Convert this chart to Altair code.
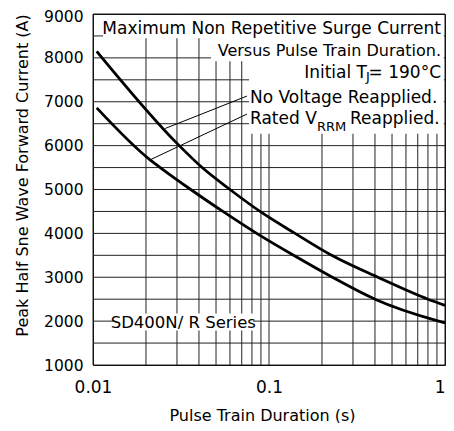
import altair as alt
import pandas as pd

# ---- series ----
pulse_no_voltage = [0.0105, 0.0309, 0.0417, 0.0600, 0.0889, 0.1406, 0.227, 0.415, 0.80, 1.0]
current_no_voltage = [8150, 6000, 5500, 5000, 4500, 4000, 3500, 3000, 2500, 2360]

pulse_rated = [0.0105, 0.0211, 0.0241, 0.0359, 0.0547, 0.0851, 0.138, 0.229, 0.40, 0.92, 1.0]
current_rated = [6860, 5675, 5500, 5000, 4500, 4000, 3500, 3000, 2500, 2000, 1960]

# ---- axis ticks / grid ----
x_tick_values = [0.01, 0.02, 0.03, 0.04, 0.05, 0.06, 0.07, 0.08, 0.09,
                 0.1, 0.2, 0.3, 0.4, 0.5, 0.6, 0.7, 0.8, 0.9, 1]
x_tick_labels = ["0.01", "0.1", "1"]
y_tick_values = [1000, 1500, 2000, 2500, 3000, 3500, 4000, 4500, 5000,
                 5500, 6000, 6500, 7000, 7500, 8000, 8500, 9000]
y_label_values = [1000, 2000, 3000, 4000, 5000, 6000, 7000, 8000, 9000]

# ---- annotation boxes (white backgrounds behind labels) ----
box_x0 = [0.0114, 0.0468, 0.0770, 0.0130]
box_x1 = [0.985, 0.985, 0.985, 0.0811]
box_y0 = [8450, 7925, 6270, 1789]
box_y1 = [8975, 8460, 7935, 2175]

# ---- leader lines ----
lead_x0 = [0.0257, 0.0211]
lead_y0 = [6390, 5675]
lead_x1 = [0.075, 0.075]
lead_y1 = [7130, 6720]

FONT = "DejaVu Sans"
GRID = "#222222"

curves = pd.DataFrame({
    "pulse": pulse_no_voltage + pulse_rated,
    "current": current_no_voltage + current_rated,
    "series": ["No Voltage Reapplied"] * len(pulse_no_voltage)
              + ["Rated VRRM Reapplied"] * len(pulse_rated),
})
boxes = pd.DataFrame({"x0": box_x0, "x1": box_x1, "y0": box_y0, "y1": box_y1})
leads = pd.DataFrame({"x0": lead_x0, "x1": lead_x1, "y0": lead_y0, "y1": lead_y1})
vgrid = pd.DataFrame({"gx": x_tick_values})
hgrid = pd.DataFrame({"gy": y_tick_values})

x_scale = alt.Scale(type="log", domain=[0.01, 1], nice=False)
y_scale = alt.Scale(domain=[1000, 9000], nice=False)

x_axis = alt.Axis(
    values=x_tick_values,
    labelExpr="indexof(['0.01','0.1','1'], format(datum.value, '~g')) >= 0 ? format(datum.value, '~g') : ''",
    labelAlign=alt.condition("datum.value == 1", alt.value("right"), alt.value("center")),
    labelFlush=False, labelOverlap=False, ticks=False, tickSize=0,
    labelPadding=14, labelFontSize=17, domain=False, grid=False,
    title="Pulse Train Duration (s)", titleFontSize=16,
    titleX=169, titleY=55, titleBaseline="alphabetic", titleAnchor="middle",
)
y_axis = alt.Axis(
    values=y_label_values,
    format="d",
    labelOffset=alt.condition("datum.value == 9000", alt.value(2), alt.value(0)),
    labelOverlap=False, ticks=False, tickSize=0, labelPadding=10,
    labelFontSize=15.5, domain=False, grid=False,
    title="Peak Half Sne Wave Forward Current (A)", titleFontSize=16,
    titleX=-66, titleY=161, titleBaseline="alphabetic", titleAnchor="middle",
)

vlines = alt.Chart(vgrid).mark_rule(color=GRID, strokeWidth=1).encode(
    x=alt.X("gx:Q", scale=x_scale, axis=x_axis)
)
hlines = alt.Chart(hgrid).mark_rule(color=GRID, strokeWidth=1).encode(
    y=alt.Y("gy:Q", scale=y_scale, axis=y_axis)
)

rects = alt.Chart(boxes).mark_rect(color="white").encode(
    x=alt.X("x0:Q", scale=x_scale), x2="x1:Q",
    y=alt.Y("y0:Q", scale=y_scale), y2="y1:Q",
)

rules = alt.Chart(leads).mark_rule(color="black", strokeWidth=1).encode(
    x=alt.X("x0:Q", scale=x_scale), x2="x1:Q",
    y=alt.Y("y0:Q", scale=y_scale), y2="y1:Q",
)

lines = alt.Chart(curves).mark_line(color="black", strokeWidth=2.8, interpolate="monotone").encode(
    x=alt.X("pulse:Q", scale=x_scale),
    y=alt.Y("current:Q", scale=y_scale),
    detail="series:N",
)


def note(text, x, y, align, size=17, dx=0, dy=0):
    df = pd.DataFrame({"x": [x], "y": [y], "t": [text]})
    return alt.Chart(df).mark_text(
        align=align, baseline="alphabetic", font=FONT, fontSize=size,
        dx=dx, dy=dy, color="black",
    ).encode(
        x=alt.X("x:Q", scale=x_scale), y=alt.Y("y:Q", scale=y_scale), text="t:N"
    )


texts = [
    note("Maximum Non Repetitive Surge Current", 1, 8555, "right", 17, dx=-4),
    note("Versus Pulse Train Duration.", 1, 8039, "right", 16, dx=-4),
    note("Initial T", 1, 7532, "right", 17, dx=-78),
    note("J", 1, 7532, "left", 13, dx=-79, dy=3),
    note("= 190°C", 1, 7532, "right", 17, dx=-4),
    note("No Voltage Reapplied.", 0.078, 6970, "left", 17),
    note("Rated V", 0.078, 6482, "left", 17),
    note("RRM", 0.078, 6482, "left", 13, dx=67, dy=7),
    note("Reapplied.", 0.078, 6482, "left", 17, dx=100),
    note("SD400N/ R Series", 0.0326, 1834, "center", 16.5),
]

chart = alt.layer(vlines, hlines, rects, rules, lines, *texts).properties(
    width=352, height=351,
    padding={"left": 85, "top": 6, "right": 1, "bottom": 58},
    autosize=alt.AutoSizeParams(type="none"),
).configure_view(
    stroke="black", strokeWidth=1
).configure_axis(
    labelFont=FONT, titleFont=FONT, labelColor="black", titleColor="black",
    titleFontWeight="normal",
)

chart.save("out.html", embed_options={"renderer": "svg", "actions": False})
